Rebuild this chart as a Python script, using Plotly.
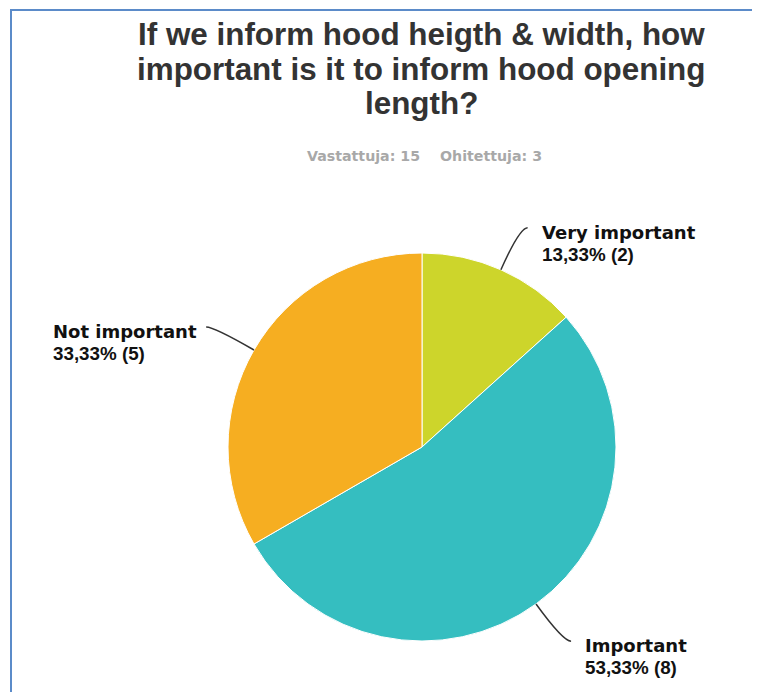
import math
import plotly.graph_objects as go

# ---- data ----
categories = ["Very important", "Important", "Not important"]
counts = [2, 8, 5]
percent_labels = ["13,33%", "53,33%", "33,33%"]
colors = ["#cdd52b", "#35bec0", "#f6ae21"]
title_lines = ["If we inform hood heigth & width, how",
               "important is it to inform hood opening",
               "length?"]
answered_text = "Vastattuja: 15"
skipped_text = "Ohitettuja: 3"

# ---- layout constants (pixels, page coordinates) ----
W, H = 760, 692
OFF = 8  # default page body margin
CX, CY, R = 422, 447, 194


def px(x):
    return (x - OFF) / W


def py(y):
    return 1 - (y - OFF) / H


fig = go.Figure()
fig.add_trace(go.Pie(
    labels=categories,
    values=counts,
    sort=False,
    direction="clockwise",
    rotation=0,
    marker=dict(colors=colors, line=dict(color="white", width=1)),
    textinfo="none",
    hoverinfo="label+percent",
    showlegend=False,
    domain=dict(x=[px(CX - R), px(CX + R)], y=[py(CY + R), py(CY - R)]),
))

annotations = []
shapes = []

# title
title_baselines = [45, 80, 114]
for line, base in zip(title_lines, title_baselines):
    annotations.append(dict(
        text=line, x=px(421), y=py(base - 10.8), xref="paper", yref="paper",
        xanchor="center", yanchor="middle", showarrow=False,
        font=dict(family="Liberation Sans", size=31.4, color="#333333", weight="bold")))

# subtitle
sub_font = dict(family="DejaVu Sans", size=14.2, color="#a8a8a8", weight="bold")
annotations.append(dict(text=answered_text, x=px(305), y=py(161 - 5), xref="paper", yref="paper",
                        xanchor="left", yanchor="middle", showarrow=False, font=sub_font))
annotations.append(dict(text=skipped_text, x=px(438), y=py(161 - 5), xref="paper", yref="paper",
                        xanchor="left", yanchor="middle", showarrow=False, font=sub_font))

# labels + leader lines
total = sum(counts)
cum = 0
for cat, cnt, pct in zip(categories, counts, percent_labels):
    mid = (cum + cnt / 2) / total * 2 * math.pi
    cum += cnt
    sx, sy = CX + R * math.sin(mid), CY - R * math.cos(mid)
    ex, ey = CX + (R + 46) * math.sin(mid), CY - (R + 46) * math.cos(mid)
    right = math.sin(mid) >= 0
    hx = ex + (8 if right else -8)
    path = (f"M {px(sx)},{py(sy)} Q {px(ex)},{py(ey)} {px(hx)},{py(ey)}")
    shapes.append(dict(type="path", path=path, xref="paper", yref="paper",
                       line=dict(color="#333333", width=1.5)))
    text = (f"<span style='font-size:18px'>{cat}</span><br>"
            f"<span style='font-family:Liberation Sans;font-size:18.8px'>"
            f"{pct} ({cnt})</span>")
    annotations.append(dict(
        text=text, x=px(hx + (12 if right else -7)), y=py(ey - 8),
        xref="paper", yref="paper", xanchor="left" if right else "right",
        yanchor="top", align="left", showarrow=False,
        font=dict(family="DejaVu Sans", size=17, color="#111111", weight="bold")))

# frame border
shapes.append(dict(type="rect", xref="paper", yref="paper",
                   x0=px(11), x1=px(W + 30), y0=py(H + 30), y1=py(10),
                   line=dict(color="#5b8bc9", width=2), fillcolor="rgba(0,0,0,0)"))

fig.update_layout(
    width=W, height=H, autosize=False,
    margin=dict(l=0, r=0, t=0, b=0),
    paper_bgcolor="white", plot_bgcolor="white",
    annotations=annotations, shapes=shapes,
)

fig.write_html("out.html")
